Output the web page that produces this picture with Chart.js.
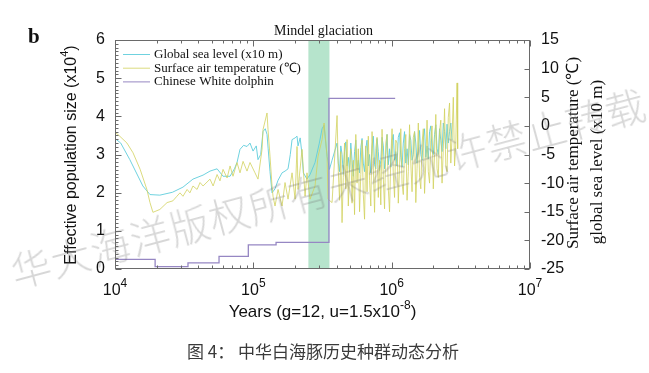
<!DOCTYPE html>
<html><head><meta charset="utf-8">
<script src="https://cdn.jsdelivr.net/npm/chart.js@4/dist/chart.umd.min.js"></script>
<style>
html,body{margin:0;padding:0;background:#fff;}
#wrap{position:relative;width:649px;height:373px;overflow:hidden;background:#fff;}
#c{position:absolute;left:0;top:0;}
#cap{position:absolute;left:187px;top:341px;font:17px/20px "Noto Sans CJK SC";color:#3a3a3a;white-space:nowrap;}
#wm{position:absolute;left:6px;top:252px;font:300 40px/1 "Noto Sans CJK SC";color:rgba(110,110,110,0.28);white-space:nowrap;letter-spacing:1px;transform-origin:0 0;transform:rotate(-15deg);pointer-events:none;}
</style></head><body>
<div id="wrap">
<canvas id="c" width="649" height="373"></canvas>
<div id="cap">图 4： 中华白海豚历史种群动态分析</div>
<div id="wm">华大海洋版权所有未经允许禁止转载</div>
</div>
<script>
// ---------- data ----------
const xTickValues = [1e4, 1e5, 1e6, 1e7];
const leftTicks = [0, 1, 2, 3, 4, 5, 6];
const rightTicks = [-25, -20, -15, -10, -5, 0, 5, 10, 15];
const bandYears = [250000, 355000];

const seriesLabels = ['Global sea level (x10 m)', 'Surface air temperature (\u2103)', 'Chinese White dolphin'];

// Chinese White dolphin effective population size (x10^4), step changes
const dolphinYears = [10000, 19500, 33700, 56500, 92000, 146000, 352000, 1060000];
const dolphinNe = [0.25, 0.06, 0.16, 0.33, 0.63, 0.70, 4.47, 4.47];

// sea level (x10 m), before 400 ka
const seaYearsEarly = [10000, 11000, 12800, 15900, 17900, 21100, 26000, 31000, 36600, 43300,
 48600, 54700, 60400, 67900, 73000, 76200, 80100, 85000, 90000, 94600,
 99500, 105000, 108100, 113000, 117500, 122000, 125600, 128000, 132000, 136500,
 143500, 150900, 161300, 169500, 178200, 185000, 190500, 200400, 207000, 210400,
 218000, 225000, 230000, 244300, 257000, 279300, 300000, 314000, 324500, 341200,
 355000, 370700];
const seaLevelEarly = [-2.2, -3.0, -5.9, -10.5, -12.0, -12.1, -11.6, -10.7, -9.3, -8.6,
 -7.9, -7.5, -8.8, -8.8, -7.5, -6.4, -4.1, -3.4, -3.6, -3.0,
 -4.4, -3.5, -5.9, -5.0, -1.0, -0.5, -1.5, -4.0, -8.0, -11.7,
 -11.0, -9.5, -8.2, -7.9, -7.5, -5.0, -2.4, -2.1, -1.8, -3.5,
 -2.1, -5.0, -8.2, -9.3, -8.5, -6.4, -3.0, -0.5, 0.1, -5.3,
 -7.6, -6.0];

// surface air temperature (C), before 400 ka
const tempYearsEarly = [10000, 10500, 12200, 13500, 15200, 17000, 17900, 18800, 21100, 23800,
 26200, 28000, 29500, 31000, 33200, 34800, 36600, 39200, 41200, 43300,
 48600, 51200, 54700, 57400, 60400, 64600, 67900, 71300, 76200, 80100,
 84300, 90000, 94600, 102800, 108100, 115600, 117500, 125600, 127700, 132000,
 136500, 138800, 143500, 150900, 161300, 169500, 178200, 190500, 200400, 207000,
 210400, 225000, 236600, 244300, 257000, 279300, 293700, 314000, 324500, 341200,
 346800, 370700];
const tempCEarly = [-1.2, -1.5, -3.0, -4.7, -7.6, -11.1, -13.4, -15.1, -14.6, -13.4,
 -13.1, -12.3, -11.7, -12.3, -11.1, -11.7, -10.5, -11.1, -9.9, -10.5,
 -9.3, -10.5, -8.5, -9.6, -7.6, -9.1, -7.0, -8.8, -6.4, -8.2,
 -6.2, -7.9, -6.4, -8.2, -9.3, -4.1, -0.65, 2.25, -0.65, -5.3,
 -10.5, -12.3, -14.0, -11.1, -14.0, -9.9, -12.8, -8.2, -12.8, -3.6,
 -11.1, -4.1, -12.3, -8.2, -12.8, -10.5, -5.3, -2.4, 0.5, -5.3,
 -12.8, -13.4];

// sampling years of the dense part (400 ka - 3 Ma)
const denseYears = [403000, 411500, 420100, 428900, 437900, 447100, 456500, 466100, 475900, 485900,
 496100, 506500, 517200, 528100, 539200, 550500, 562100, 573900, 586000, 598300,
 610900, 623700, 636800, 650200, 663900, 677800, 692100, 706600, 721500, 736700,
 752200, 768000, 784100, 800600, 817400, 834600, 852200, 870100, 888400, 907000,
 926100, 945600, 965500, 985800, 1006500, 1027700, 1049300, 1071300, 1093800, 1116800,
 1140300, 1164300, 1188800, 1213800, 1239300, 1265300, 1291900, 1319100, 1346800, 1375100,
 1404000, 1433500, 1463700, 1494400, 1525900, 1558000, 1590700, 1624100, 1658300, 1693200,
 1728800, 1765100, 1802200, 1840100, 1878800, 1918300, 1958600, 1999800, 2041800, 2084700,
 2128600, 2173300, 2219000, 2265700, 2313300, 2362000, 2411600, 2462300, 2514100, 2567000,
 2620900, 2676000, 2732300, 2789800, 2848400, 2908300, 2969500, 3000000];

const seaLevelDense = [-3.0, -6.5, -8.0, -3.5, -5.0, -8.5, -4.5, -2.8, -7.0, -5.5,
 -8.0, -3.0, -6.0, -8.8, -4.5, -2.5, -7.5, -6.0, -8.2, -3.8,
 -2.2, -6.5, -8.0, -4.0, -2.5, -7.0, -5.0, -8.2, -3.5, -1.8,
 -6.8, -7.5, -2.2, -4.5, -7.8, -6.0, -2.0, -3.5, -7.5, -5.0,
 -1.5, -6.8, -4.0, -7.2, -2.5, -1.5, -6.0, -4.5, -7.0, -2.0,
 -1.2, -5.5, -7.2, -3.0, -1.0, -6.5, -4.0, -6.8, -1.5, -2.5,
 -6.0, -5.0, -1.0, -3.0, -6.5, -4.5, -0.8, -5.0, -6.0, -2.0,
 -0.5, -5.5, -3.5, -5.8, -1.0, 0.0, -4.5, -5.0, -1.5, 0.2,
 -4.0, -5.0, -0.5, -2.5, -4.5, 0.5, -1.0, -4.0, 0.3, -3.0,
 -1.0, 0.5, -2.5];

const tempCDense = [1.8, -8.0, -13.0, -4.5, -16.9, -9.0, -3.0, -11.0, -2.4, -14.0,
 -7.5, -4.0, -13.5, -6.0, -15.5, -1.5, -10.0, -4.0, -15.0, -8.5,
 -2.5, -12.0, -16.3, -3.5, -11.5, -1.8, -9.5, -14.0, -1.0, -7.0,
 -15.1, -4.0, -2.0, -12.5, -6.0, -13.8, -0.6, -9.0, -14.5, -3.0,
 -1.5, -11.0, -15.0, -5.5, -0.5, -8.5, -12.5, -2.5, -3.0, -13.5,
 -7.0, -0.5, -10.0, -12.0, -4.0, -1.5, -13.0, -8.0, 0.2, -6.5,
 -11.5, -2.0, -1.0, -13.4, -7.5, 0.5, -9.0, -11.0, -3.0, -0.5,
 -11.8, -6.5, 1.0, -8.0, -10.0, -2.5, 0.0, -11.0, -5.0, 2.0,
 -7.5, -9.0, -1.0, 1.0, -10.0, -4.0, 3.0, -7.0, -8.0, 1.5,
 4.0, -6.5, -2.0, 5.0, -7.0, -3.0, 7.5, -4.0];

// ---------- helpers ----------
const SANS = '"Liberation Sans", Arial, sans-serif';
const SERIF = '"Liberation Serif", "Times New Roman", serif';
const pts = (xs, ys) => ys.map((v, i) => ({x: xs[i], y: v}));
const seaData = pts(seaYearsEarly, seaLevelEarly).concat(pts(denseYears, seaLevelDense));
const tempData = pts(tempYearsEarly, tempCEarly).concat(pts(denseYears, tempCDense));

function drawParts(ctx, parts, x, y, align) {
  let w = 0;
  parts.forEach(p => { ctx.font = p.f; w += ctx.measureText(p.t).width; });
  let cx = align === 'center' ? x - w / 2 : x;
  parts.forEach(p => { ctx.font = p.f; ctx.fillText(p.t, cx, y + (p.dy || 0)); cx += ctx.measureText(p.t).width; });
}

const deco = {
  id: 'deco',
  beforeDatasetsDraw(chart) {
    const {ctx, chartArea: a, scales: {x}} = chart;
    const x0 = x.getPixelForValue(bandYears[0]), x1 = x.getPixelForValue(bandYears[1]);
    ctx.save();
    ctx.fillStyle = 'rgb(182,228,204)';
    ctx.fillRect(x0, a.top, x1 - x0, a.bottom - a.top);
    ctx.restore();
  },
  afterDatasetsDraw(chart) {
    const {ctx, chartArea: a, scales: {x, y, y2}} = chart;
    ctx.save();
    ctx.strokeStyle = '#6a6a6a';
    ctx.lineWidth = 1;
    const L = Math.round(a.left) + 0.5, R = Math.round(a.right) - 0.5;
    const T = Math.round(a.top) + 0.5, B = Math.round(a.bottom) - 0.5;
    ctx.strokeRect(L, T, R - L, B - T);
    ctx.beginPath();
    for (let d = 0; d < xTickValues.length; d++) {
      const base = xTickValues[d];
      for (let m = 1; m <= 9; m++) {
        const v = base * m;
        if (v > 1e7) break;
        const px = Math.round(x.getPixelForValue(v)) + 0.5;
        const len = m === 1 ? 6 : 3;
        ctx.moveTo(px, B); ctx.lineTo(px, B - len);
        ctx.moveTo(px, T); ctx.lineTo(px, T + len);
      }
    }
    for (let i = 0; i <= 60; i++) {
      const py = Math.round(y.getPixelForValue(i / 10)) + 0.5;
      const len = i % 10 === 0 ? 6 : 3;
      ctx.moveTo(L, py); ctx.lineTo(L + len, py);
    }
    rightTicks.forEach(v => {
      const py = Math.round(y2.getPixelForValue(v)) + 0.5;
      ctx.moveTo(R, py); ctx.lineTo(R - 5, py);
    });
    ctx.stroke();

    ctx.fillStyle = '#111';
    ctx.textBaseline = 'alphabetic';
    ctx.textAlign = 'left';
    x.ticks.forEach(t => {
      const px = x.getPixelForValue(t.value);
      const e = Math.round(Math.log10(t.value));
      drawParts(ctx, [{t: '10', f: '16px ' + SANS}, {t: String(e), f: '12px ' + SANS, dy: -8}], px, 295, 'center');
    });

    drawParts(ctx, [{t: 'Years (g=12, u=1.5x10', f: '17px ' + SANS}, {t: '-8', f: '12px ' + SANS, dy: -8}, {t: ')', f: '17px ' + SANS}], (a.left + a.right) / 2, 317, 'center');

    ctx.save();
    ctx.translate(72, 155);
    ctx.rotate(-Math.PI / 2);
    ctx.textBaseline = 'middle';
    drawParts(ctx, [{t: 'Effective population size (x10', f: '16px ' + SANS}, {t: '4', f: '11px ' + SANS, dy: -7}, {t: ')', f: '16px ' + SANS}], 0, 0, 'center');
    ctx.restore();

    ctx.save();
    ctx.textBaseline = 'middle';
    ctx.textAlign = 'center';
    ctx.font = '17px ' + SERIF;
    ctx.translate(574, 153);
    ctx.rotate(-Math.PI / 2);
    ctx.fillText('Surface air temperature (\u2103)', 0, 0);
    ctx.restore();
    ctx.save();
    ctx.textBaseline = 'middle';
    ctx.textAlign = 'center';
    ctx.font = '17px ' + SERIF;
    ctx.translate(598, 162);
    ctx.rotate(-Math.PI / 2);
    ctx.fillText('global sea level (x10 m)', 0, 0);
    ctx.restore();

    ctx.textAlign = 'center';
    ctx.font = '14px ' + SERIF;
    ctx.fillText('Mindel glaciation', (a.left + a.right) / 2 + 1, 35);
    ctx.textAlign = 'left';
    ctx.font = 'bold 21px ' + SERIF;
    ctx.fillText('b', 28, 43);

    ctx.textBaseline = 'middle';
    ctx.font = '13px ' + SERIF;
    chart.data.datasets.forEach((ds, i) => {
      const ly = 54.5 + i * 13.7;
      ctx.strokeStyle = ds.borderColor;
      ctx.lineWidth = 1;
      ctx.beginPath(); ctx.moveTo(123, ly); ctx.lineTo(150, ly); ctx.stroke();
      ctx.fillStyle = '#111';
      ctx.fillText(ds.label, 154, ly);
    });
    ctx.restore();
  }
};

new Chart(document.getElementById('c'), {
  type: 'line',
  data: {
    datasets: [
      {label: seriesLabels[0], data: seaData, yAxisID: 'y2', borderColor: 'rgba(95,205,220,0.9)', borderWidth: 1, pointRadius: 0, order: 2},
      {label: seriesLabels[1], data: tempData, yAxisID: 'y2', borderColor: 'rgba(210,210,95,0.8)', borderWidth: 1, pointRadius: 0, order: 1},
      {label: seriesLabels[2], data: pts(dolphinYears, dolphinNe), yAxisID: 'y', borderColor: 'rgb(150,135,195)', borderWidth: 1.3, pointRadius: 0, stepped: 'before', order: 0}
    ]
  },
  options: {
    responsive: false, animation: false, devicePixelRatio: 1,
    layout: {padding: {top: 40, left: 0, right: 0, bottom: 0}},
    plugins: {legend: {display: false}, tooltip: {enabled: false}, title: {display: false}},
    scales: {
      x: {type: 'logarithmic', min: 1e4, max: 1e7, position: 'bottom',
          grid: {display: false, drawTicks: false}, border: {display: false}, ticks: {display: false},
          afterBuildTicks(s) { s.ticks = xTickValues.map(v => ({value: v})); },
          afterFit(s) { s.height = 104; }},
      y: {position: 'left', min: 0, max: 6,
          afterBuildTicks(s) { s.ticks = leftTicks.map(v => ({value: v})); },
          ticks: {padding: 10, color: '#111', font: {family: SANS, size: 16}},
          grid: {display: false, drawTicks: false}, border: {display: false},
          afterFit(s) { s.width = 115; }},
      y2: {position: 'right', min: -25, max: 15,
          afterBuildTicks(s) { s.ticks = rightTicks.map(v => ({value: v})); },
          ticks: {padding: 11, color: '#111', font: {family: SANS, size: 16}},
          grid: {display: false, drawTicks: false}, border: {display: false},
          afterFit(s) { s.width = 119; }}
    }
  },
  plugins: [deco]
});
</script>
</body></html>
